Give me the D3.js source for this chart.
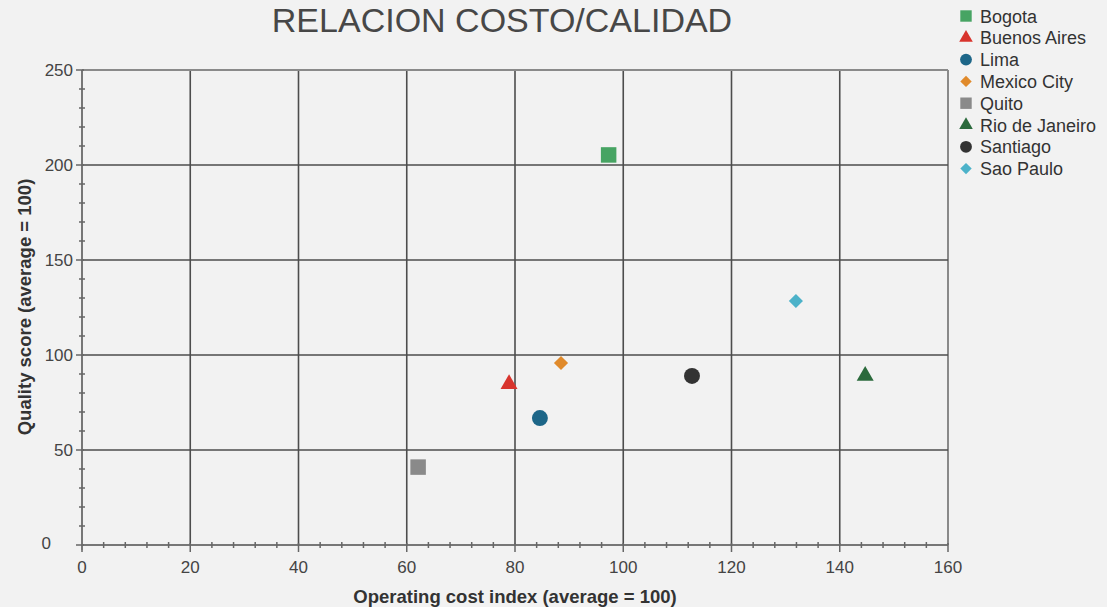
<!DOCTYPE html>
<html>
<head>
<meta charset="utf-8">
<script src="https://cdn.jsdelivr.net/npm/d3@7"></script>
<style>
  html, body { margin: 0; padding: 0; background: #f2f2f2; }
  svg { display: block; font-family: "Liberation Sans", Arial, sans-serif; }
</style>
</head>
<body>
<svg id="chart" width="1107" height="607"></svg>
<script>
const cities = ["Bogota", "Buenos Aires", "Lima", "Mexico City", "Quito", "Rio de Janeiro", "Santiago", "Sao Paulo"];
const costIndex = [97.3, 78.9, 84.6, 88.5, 62.1, 144.7, 112.7, 131.9];
const qualityScore = [205.3, 84.7, 66.8, 95.8, 41.0, 89.0, 89.0, 128.4];
const colors = ["#47a463", "#d8342d", "#1d6688", "#e08a2b", "#8a8a8a", "#2b6a3c", "#333333", "#4cb2c9"];
const shapes = ["square", "triangle", "circle", "diamond", "square", "triangle", "circle", "diamond"];
const xTicks = [0, 20, 40, 60, 80, 100, 120, 140, 160];
const yTicks = [0, 50, 100, 150, 200, 250];

const svg = d3.select("#chart");
const m = { left: 82, right: 948, top: 70, bottom: 545 };

const x = d3.scaleLinear().domain([0, 160]).range([m.left, m.right]);
const y = d3.scaleLinear().domain([0, 250]).range([m.bottom, m.top]);

const symMap = { square: d3.symbolSquare, triangle: d3.symbolTriangle, circle: d3.symbolCircle, diamond: d3.symbolSquare };
const rotMap = { square: 0, triangle: 0, circle: 0, diamond: 45 };
const sizeMap = { square: 240, triangle: 125, circle: 200, diamond: 100 };

// Title
svg.append("text").attr("x", 502).attr("y", 32).attr("text-anchor", "middle")
  .attr("font-size", 34).attr("fill", "#474747").text("RELACION COSTO/CALIDAD");

// Grid
const grid = svg.append("g").attr("fill", "none");
xTicks.slice(1).forEach(t => grid.append("line").attr("x1", x(t)).attr("x2", x(t)).attr("y1", m.top).attr("y2", m.bottom)
  .attr("stroke", t === 160 ? "#8a8a8a" : "#4d4d4d").attr("stroke-width", t === 160 ? 2 : 1.6));
yTicks.slice(1).forEach(t => grid.append("line").attr("x1", m.left).attr("x2", m.right).attr("y1", y(t)).attr("y2", y(t))
  .attr("stroke", t === 250 ? "#8a8a8a" : "#4d4d4d").attr("stroke-width", t === 250 ? 2 : 1.6));

// X axis
const xAxis = svg.append("g").attr("transform", `translate(0,${m.bottom})`);
xAxis.append("line").attr("x1", m.left).attr("x2", m.right).attr("stroke", "#777").attr("stroke-width", 2);
d3.range(0, 161, 4).forEach(t => {
  const major = t % 20 === 0;
  xAxis.append("line").attr("x1", x(t)).attr("x2", x(t)).attr("y1", major ? -2 : -3).attr("y2", major ? 7 : 3)
    .attr("stroke", "#666").attr("stroke-width", 1.5);
});
xTicks.forEach(t => xAxis.append("text").attr("x", x(t)).attr("y", 28).attr("text-anchor", "middle")
  .attr("font-size", 17).attr("fill", "#444").text(t));

// Y axis
const yAxis = svg.append("g").attr("transform", `translate(${m.left},0)`);
yAxis.append("line").attr("y1", m.top).attr("y2", m.bottom + 5).attr("stroke", "#777").attr("stroke-width", 2);
d3.range(0, 251, 10).forEach(t => {
  const major = t % 50 === 0;
  yAxis.append("line").attr("y1", y(t)).attr("y2", y(t)).attr("x1", major ? -6 : -3).attr("x2", major ? 2 : 3)
    .attr("stroke", "#666").attr("stroke-width", 1.5);
});
yTicks.forEach(t => yAxis.append("text").attr("x", t === 0 ? -31 : -9).attr("y", y(t) + (t === 0 ? 4 : 6))
  .attr("text-anchor", "end").attr("font-size", 17).attr("fill", "#444").text(t));

// Axis titles
svg.append("text").attr("x", 515).attr("y", 603).attr("text-anchor", "middle")
  .attr("font-size", 18.5).attr("font-weight", "bold").attr("fill", "#333").text("Operating cost index (average = 100)");
svg.append("text").attr("transform", `translate(31,307) rotate(-90)`).attr("text-anchor", "middle")
  .attr("font-size", 18.5).attr("font-weight", "bold").attr("fill", "#333").text("Quality score (average = 100)");

// Points
cities.forEach((c, i) => {
  const s = shapes[i];
  svg.append("path")
    .attr("d", d3.symbol().type(symMap[s]).size(sizeMap[s])())
    .attr("transform", `translate(${x(costIndex[i])},${y(qualityScore[i])}) rotate(${rotMap[s]})`)
    .attr("fill", colors[i]);
});

// Legend
const leg = svg.append("g").attr("transform", "translate(966,16)");
cities.forEach((c, i) => {
  const s = shapes[i];
  const row = leg.append("g").attr("transform", `translate(0,${i * 21.8})`);
  const lsz = { square: 130, triangle: 80, circle: 110, diamond: 65 }[s];
  row.append("path").attr("d", d3.symbol().type(symMap[s]).size(lsz)())
    .attr("transform", `rotate(${rotMap[s]})`).attr("fill", colors[i]);
  row.append("text").attr("x", 14).attr("y", 6.5).attr("font-size", 18).attr("fill", "#333").text(c);
});
</script>
</body>
</html>
